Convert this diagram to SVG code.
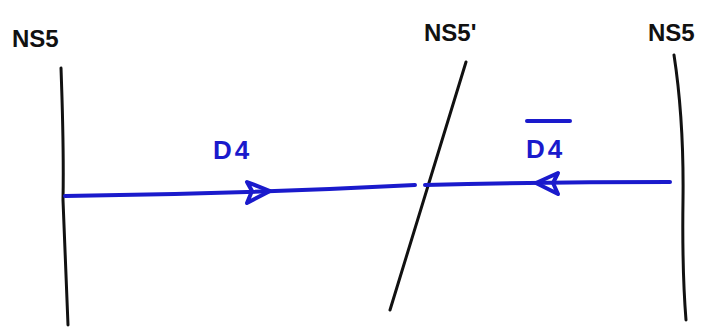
<svg xmlns="http://www.w3.org/2000/svg" width="723" height="332" viewBox="0 0 723 332">
<style>
.brane{fill:none;stroke:#111;stroke-width:3;stroke-linecap:round}
.d4{fill:none;stroke:#1a1acc;stroke-width:4;stroke-linecap:round;stroke-linejoin:round}
.lbl{font-family:"Liberation Sans",sans-serif;font-weight:bold;font-size:24px;fill:#111}
.blbl{font-family:"Liberation Sans",sans-serif;font-weight:bold;font-size:26px;fill:#1a1acc}
</style>
<rect width="723" height="332" fill="#fff"/>
<g id="ns5-left">
<path class="brane" d="M61,68 Q64,150 63,200 Q66,270 68,325"/>
<text class="lbl" x="12" y="47">NS5</text>
</g>
<g id="ns5-prime">
<path class="brane" d="M466,62 Q430,180 390,310"/>
<text class="lbl" x="424" y="41">NS5'</text>
</g>
<g id="ns5-right">
<path class="brane" d="M674,55 Q684,120 683,200 Q682,270 686,320"/>
<text class="lbl" x="648" y="41">NS5</text>
</g>
<g id="connectors">
<path class="d4" d="M65,196 Q240,194 415,185"/>
<path class="d4" d="M247,182 L270,191 L247,203 L252,191 Z" fill="#1a1acc"/>
<path class="d4" d="M425,185 Q550,182 670,182"/>
<path class="d4" d="M558,173 L536,183 L558,194 L553,183 Z" fill="#1a1acc"/>
<text class="blbl" x="213" y="159" letter-spacing="3">D4</text>
<text class="blbl" x="526" y="158" letter-spacing="3">D4</text>
<line class="d4" x1="527" y1="121" x2="570" y2="121" stroke-width="3"/>
</g>
</svg>
